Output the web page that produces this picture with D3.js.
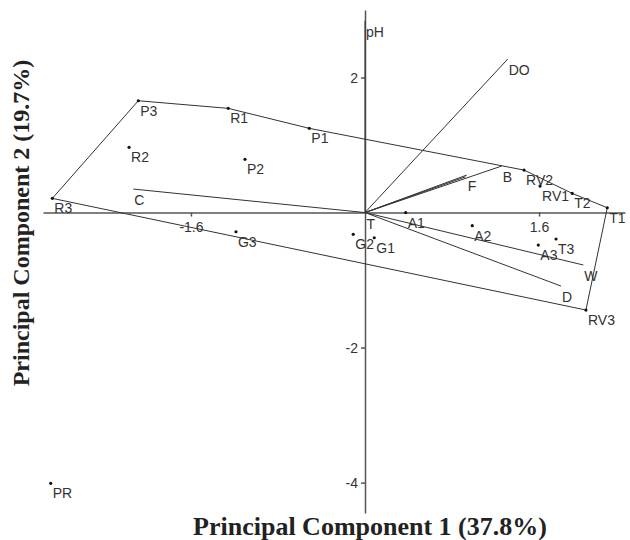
<!DOCTYPE html>
<html>
<head>
<meta charset="utf-8">
<title>PCA biplot</title>
<script src="https://cdn.jsdelivr.net/npm/d3@7"></script>
<style>
  body { margin: 0; background: #fff; }
  text { font-family: Arial, "Liberation Sans", sans-serif; }
  .lbl { font-size: 14px; fill: #333; }
  .axis text { font-size: 14px; fill: #333; }
  .axis path, .axis line { stroke: #555; stroke-width: 1.5; }
  .title { font-family: "Times New Roman", "Liberation Serif", serif; font-weight: bold; fill: #222; }
</style>
</head>
<body>
<div id="vis"></div>
<script>
  // sample scores (PC1, PC2)
  var siteNames = ['P3','R1','P1','R2','P2','R3','G3','G2','G1','A1','A2','A3','T3','T1','T2','RV1','RV2','RV3','PR'];
  var siteX = [-2.084,-1.257,-0.512,-2.169,-1.103,-2.874,-1.186,-0.108,0.085,0.374,0.986,1.593,1.756,2.227,1.905,1.609,1.462,2.031,-2.889];
  var siteY = [1.656,1.543,1.247,0.966,0.788,0.210,-0.284,-0.323,-0.373,0.0,-0.195,-0.481,-0.392,0.071,0.284,0.392,0.629,-1.444,-4.011];

  // variable loadings
  var varNames = ['pH','DO','B','F','','C','T','W','D'];
  var varX = [0.0,1.312,1.257,0.935,0.925,-2.130,0.005,2.007,1.802];
  var varY = [2.84,2.273,0.689,0.555,0.530,0.348,-0.005,-0.777,-1.089];

  // outline drawn round the sample group
  var hullOrder = ['P3','R1','P1','RV2','T2','T1','RV3','R3'];

  var xTicks = [-1.6, 1.6];
  var yTicks = [2, -2, -4];

  var width = 630, height = 540;

  var svg = d3.select('#vis').append('svg')
    .attr('width', width).attr('height', height);

  var x = d3.scaleLinear().domain([-2.96, 2.39]).range([43, 625]);
  var y = d3.scaleLinear().domain([3.0, -4.45]).range([10, 513]);

  var sites = siteNames.map(function(n, i){ return {name: n, x: siteX[i], y: siteY[i]}; });
  var vars = varNames.map(function(n, i){ return {name: n, x: varX[i], y: varY[i]}; });
  var byName = {};
  sites.forEach(function(d){ byName[d.name] = d; });

  // plain hyphen for negatives, like the original
  var fmt = function(d){ return String(d); };

  // axes through the origin
  svg.append('g')
    .attr('class', 'axis')
    .attr('transform', 'translate(0,' + y(0) + ')')
    .call(d3.axisBottom(x).tickValues(xTicks).tickSize(4).tickSizeOuter(0).tickPadding(6).tickFormat(fmt));

  svg.append('g')
    .attr('class', 'axis')
    .attr('transform', 'translate(' + x(0) + ',0)')
    .call(d3.axisLeft(y).tickValues(yTicks).tickSize(4).tickSizeOuter(0).tickPadding(3).tickFormat(fmt));

  svg.selectAll('.axis text').style('font-family', 'Arial, "Liberation Sans", sans-serif');

  // hull
  var line = d3.line().x(function(d){ return x(d.x); }).y(function(d){ return y(d.y); });
  var hull = hullOrder.map(function(n){ return byName[n]; });
  svg.append('path')
    .attr('d', line(hull) + 'Z')
    .style('fill', 'none')
    .style('stroke', '#333')
    .style('stroke-width', 1);

  // loading vectors
  svg.selectAll('line.vec').data(vars).enter().append('line')
    .attr('class', 'vec')
    .attr('x1', x(0)).attr('y1', y(0))
    .attr('x2', function(d){ return x(d.x); })
    .attr('y2', function(d){ return y(d.y); })
    .style('stroke', '#333')
    .style('stroke-width', 1);

  svg.selectAll('text.vlbl').data(vars).enter().append('text')
    .attr('class', 'lbl vlbl')
    .attr('x', function(d){ return x(d.x) + 1; })
    .attr('y', function(d){ return y(d.y) + 16; })
    .text(function(d){ return d.name; });

  // sample points
  svg.selectAll('circle').data(sites).enter().append('circle')
    .attr('cx', function(d){ return x(d.x); })
    .attr('cy', function(d){ return y(d.y); })
    .attr('r', 1.6)
    .style('fill', '#111');

  svg.selectAll('text.slbl').data(sites).enter().append('text')
    .attr('class', 'lbl slbl')
    .attr('x', function(d){ return x(d.x) + 2; })
    .attr('y', function(d){ return y(d.y) + 15; })
    .text(function(d){ return d.name; });

  // axis titles
  svg.append('text')
    .attr('class', 'title')
    .attr('text-anchor', 'middle')
    .style('font-size', '26px')
    .attr('x', 370).attr('y', 535)
    .text('Principal Component 1 (37.8%)');

  svg.append('text')
    .attr('class', 'title')
    .attr('text-anchor', 'middle')
    .style('font-size', '24px')
    .attr('transform', 'translate(29,223) rotate(-90)')
    .text('Principal Component 2 (19.7%)');
</script>
</body>
</html>
